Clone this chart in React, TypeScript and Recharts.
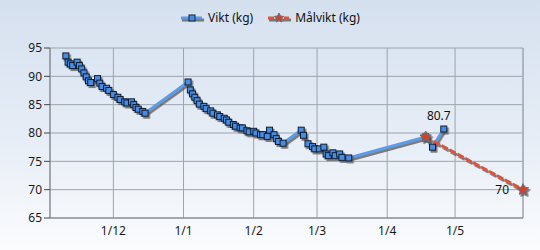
import {
  LineChart,
  Line,
  XAxis,
  YAxis,
  CartesianGrid,
  ReferenceLine,
  ReferenceDot,
} from "recharts";

// Vikt (kg) – uppmätta värden
const viktDates = [
  "2012-11-10", "2012-11-11", "2012-11-12", "2012-11-13", "2012-11-15", "2012-11-16",
  "2012-11-17", "2012-11-18", "2012-11-19", "2012-11-20", "2012-11-21", "2012-11-24",
  "2012-11-25", "2012-11-26", "2012-11-28", "2012-11-29", "2012-12-01", "2012-12-03",
  "2012-12-04", "2012-12-06", "2012-12-07", "2012-12-09", "2012-12-10", "2012-12-11",
  "2012-12-12", "2012-12-14", "2012-12-15", "2013-01-03", "2013-01-04", "2013-01-05",
  "2013-01-06", "2013-01-07", "2013-01-08", "2013-01-10", "2013-01-11", "2013-01-13",
  "2013-01-14", "2013-01-16", "2013-01-17", "2013-01-19", "2013-01-20", "2013-01-21",
  "2013-01-23", "2013-01-24", "2013-01-26", "2013-01-27", "2013-01-29", "2013-01-30",
  "2013-02-01", "2013-02-02", "2013-02-04", "2013-02-05", "2013-02-07", "2013-02-08",
  "2013-02-10", "2013-02-11", "2013-02-12", "2013-02-14", "2013-02-22", "2013-02-23",
  "2013-02-25", "2013-02-27", "2013-02-28", "2013-03-02", "2013-03-04", "2013-03-05",
  "2013-03-06", "2013-03-08", "2013-03-09", "2013-03-11", "2013-03-12", "2013-03-15",
  "2013-04-18", "2013-04-21", "2013-04-26",
];
const viktValues = [
  93.6, 92.5, 92.2, 91.9, 92.5, 91.9,
  91.3, 90.6, 89.9, 89.2, 88.9, 89.6,
  88.8, 88.2, 87.9, 87.5, 86.8, 86.3,
  85.9, 85.5, 85.3, 85.5, 85.0, 84.5,
  84.2, 83.8, 83.5, 89.0, 87.6, 86.9,
  86.3, 85.7, 85.1, 84.7, 84.3, 83.9,
  83.5, 83.2, 82.9, 82.6, 82.3, 81.9,
  81.5, 81.2, 80.9, 80.9, 80.4, 80.2,
  80.3, 80.0, 79.7, 79.7, 79.4, 80.5,
  79.7, 79.0, 78.5, 78.2, 80.5, 79.6,
  78.1, 77.6, 77.2, 77.2, 77.5, 76.3,
  76.0, 76.5, 76.0, 76.3, 75.7, 75.6,
  79.3, 77.5, 80.7,
];

// Målvikt (kg)
const malDates = ["2013-04-18", "2013-05-31"];
const malValues = [79.3, 70];

// axlar
const xTickDates = ["2012-12-01", "2013-01-01", "2013-02-01", "2013-03-01", "2013-04-01", "2013-05-01"];
const xDomainDates = ["2012-11-03", "2013-05-31"];
const yTicks = [65, 70, 75, 80, 85, 90, 95];

const toTime = (s: string) => {
  const [y, m, d] = s.split("-").map(Number);
  return Date.UTC(y, m - 1, d);
};

const viktData = viktDates.map((d, i) => ({ t: toTime(d), v: viktValues[i] }));
const malData = malDates.map((d, i) => ({ t: toTime(d), v: malValues[i] }));
const xTicks = xTickDates.map(toTime);
const xDomain = xDomainDates.map(toTime);

const fmtTick = (t: number) => {
  const d = new Date(t);
  return `${d.getUTCDate()}/${d.getUTCMonth() + 1}`;
};

const FONT = "'Noto Sans', 'DejaVu Sans', sans-serif";

const SquareDot = (props: any) => {
  const { cx, cy, index } = props;
  if (cx == null || cy == null) return null;
  return (
    <rect
      key={`sq-${index}`}
      x={cx - 3}
      y={cy - 3}
      width={6}
      height={6}
      fill="#4a8de3"
      stroke="#0c1d33"
      strokeWidth={1}
    />
  );
};

const starPoints = (cx: number, cy: number, ro: number, ri: number) => {
  const pts: string[] = [];
  for (let i = 0; i < 10; i++) {
    const r = i % 2 === 0 ? ro : ri;
    const a = (Math.PI / 5) * i - Math.PI / 2;
    pts.push(`${cx + r * Math.cos(a)},${cy + r * Math.sin(a)}`);
  }
  return pts.join(" ");
};

const StarDot = (props: any) => {
  const { cx, cy, index } = props;
  if (cx == null || cy == null) return null;
  return (
    <polygon
      key={`st-${index}`}
      points={starPoints(cx, cy, 6, 3)}
      fill="#d2412c"
      stroke="#6b6f78"
      strokeWidth={1}
    />
  );
};

const lastVikt = viktData[viktData.length - 1];
const lastMal = malData[malData.length - 1];

function LegendBar() {
  const item = (color: string, dashed: boolean, marker: "sq" | "star", text: string) => (
    <div style={{ display: "flex", alignItems: "center", marginRight: 14 }}>
      <svg width={24} height={12} style={{ marginRight: 4 }}>
        <line x1={2} y1={8} x2={24} y2={8} stroke="#777" strokeWidth={3} />
        <line x1={1} y1={6} x2={22} y2={6} stroke={color} strokeWidth={3} strokeDasharray={dashed ? "6 2" : undefined} />
        {marker === "sq" ? (
          <rect x={9} y={3} width={6} height={6} fill="#4a8de3" stroke="#10233d" />
        ) : (
          <polygon points={starPoints(12, 6, 5, 2.5)} fill="#d2412c" stroke="#6b6f78" />
        )}
      </svg>
      <span>{text}</span>
    </div>
  );
  return (
    <div
      style={{
        position: "absolute",
        top: 9,
        left: 0,
        width: 540,
        display: "flex",
        justifyContent: "center",
        fontFamily: FONT,
        fontSize: 12,
        color: "#111",
        paddingLeft: 14,
        boxSizing: "border-box",
      }}
    >
      {item("#5c9be8", false, "sq", "Vikt (kg)")}
      {item("#d9553f", true, "star", "Målvikt (kg)")}
    </div>
  );
}

export default function App() {
  return (
    <div
      style={{
        position: "relative",
        width: 540,
        height: 250,
        background: "linear-gradient(to bottom, #d5e0ef 0%, #e6edf6 55%, #fbfcfe 100%)",
        fontFamily: FONT,
      }}
    >
      <style>{`
        body { margin: 0; }
        .recharts-line .recharts-curve, .recharts-line-dots { filter: url(#sh); }
      `}</style>
      <LegendBar />
      <LineChart
        width={540}
        height={250}
        margin={{ top: 48, right: 17, bottom: 7, left: 0 }}
        style={{ position: "absolute", top: 0, left: 0 }}
      >
        <defs>
          <filter id="sh" filterUnits="userSpaceOnUse" x={0} y={0} width={540} height={250}>
            <feDropShadow dx={1.5} dy={2} stdDeviation={0.6} floodColor="#555" floodOpacity={0.75} />
          </filter>
        </defs>
        <CartesianGrid stroke="#9ea4ae" vertical horizontal />
        <XAxis
          type="number"
          dataKey="t"
          domain={xDomain}
          ticks={xTicks}
          tickFormatter={fmtTick}
          height={25}
          tickLine={false}
          axisLine={{ stroke: "#7d8088" }}
          tick={{ fill: "#1a1a1a", fontSize: 12, fontFamily: FONT }}
        />
        <YAxis
          type="number"
          domain={[65, 95]}
          ticks={yTicks}
          width={50}
          axisLine={{ stroke: "#7d8088" }}
          tickLine={{ stroke: "#444" }}
          tick={{ fill: "#1a1a1a", fontSize: 12, fontFamily: FONT }}
        />
        <ReferenceLine x={xDomain[1]} stroke="#9ea4ae" />
        <Line
          data={viktData}
          dataKey="v"
          name="Vikt (kg)"
          type="linear"
          stroke="#5c9be8"
          strokeWidth={3}
          dot={SquareDot}
          activeDot={false}
          isAnimationActive={false}
        />
        <Line
          data={malData}
          dataKey="v"
          name="Målvikt (kg)"
          type="linear"
          stroke="#d9553f"
          strokeWidth={3}
          strokeDasharray="7 2"
          dot={StarDot}
          activeDot={false}
          isAnimationActive={false}
        />
        <ReferenceDot
          x={lastVikt.t}
          y={lastVikt.v}
          r={0}
          label={{ value: String(lastVikt.v), position: "top", offset: 9, dx: -5, fill: "#111", fontSize: 12, fontFamily: FONT }}
        />
        <ReferenceDot
          x={lastMal.t}
          y={lastMal.v}
          r={0}
          label={{ value: String(lastMal.v), position: "left", offset: 14, fill: "#111", fontSize: 12, fontFamily: FONT }}
        />
      </LineChart>
    </div>
  );
}
